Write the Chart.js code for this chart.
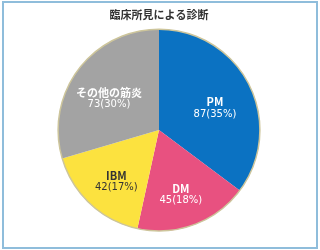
<!DOCTYPE html>
<html>
<head>
<meta charset="utf-8">
<script src="https://cdn.jsdelivr.net/npm/chart.js@4"></script>
<style>
  body { margin: 0; background: #fff; }
  #wrap { position: relative; width: 320px; height: 250px; }
  #frame {
    position: absolute; left: 2px; top: 1px; width: 316px; height: 248px;
    box-sizing: border-box; border: 2px solid #8fbddb; pointer-events: none;
  }
  canvas { position: absolute; left: 0; top: 0; }
</style>
</head>
<body>
<div id="wrap">
  <canvas id="diagChart" width="320" height="250"></canvas>
  <div id="frame"></div>
</div>
<script>
// 診断名と人数
const categories = ["PM", "DM", "IBM", "その他の筋炎"];
const counts = [87, 45, 42, 73];
const percentLabels = ["35%", "18%", "17%", "30%"];

// 色
const sliceColors = ["#0b72c2", "#e85180", "#fce23f", "#a3a3a3"];
const textColors = ["#ffffff", "#ffffff", "#333333", "#ffffff"];

const FONT = "'Noto Sans CJK JP', 'Noto Sans', sans-serif";

// 外周の細い線とラベルを描くプラグイン
const pieExtras = {
  id: "pieExtras",
  afterDatasetsDraw(chart) {
    const ctx = chart.ctx;
    const meta = chart.getDatasetMeta(0);
    const first = meta.data[0];

    ctx.save();
    ctx.beginPath();
    ctx.arc(first.x, first.y, first.outerRadius, 0, Math.PI * 2);
    ctx.strokeStyle = "#cdc59b";
    ctx.lineWidth = 1.5;
    ctx.stroke();

    ctx.textAlign = "center";
    ctx.textBaseline = "middle";
    meta.data.forEach((arc, i) => {
      const mid = (arc.startAngle + arc.endAngle) / 2;
      const r = arc.outerRadius * 0.62;
      const x = arc.x + Math.cos(mid) * r;
      const y = arc.y + Math.sin(mid) * r;
      ctx.fillStyle = textColors[i];
      ctx.font = "bold 11px " + FONT;
      ctx.fillText(categories[i], x, y);
      ctx.font = "10px 'DejaVu Sans', " + FONT;
      ctx.fillText(counts[i] + "(" + percentLabels[i] + ")", x, y + 12);
    });
    ctx.restore();
  }
};

const ctx = document.getElementById("diagChart").getContext("2d");

new Chart(ctx, {
  type: "pie",
  data: {
    labels: categories,
    datasets: [{
      data: counts,
      backgroundColor: sliceColors,
      borderWidth: 0
    }]
  },
  options: {
    responsive: false,
    animation: false,
    layout: { padding: { top: 0, bottom: 19, left: 0, right: 2 } },
    plugins: {
      legend: { display: false },
      tooltip: { enabled: false },
      title: {
        display: true,
        text: "臨床所見による診断",
        color: "#333333",
        font: { family: FONT, size: 11, weight: "bold" },
        padding: { top: 8, bottom: 8 }
      }
    }
  },
  plugins: [pieExtras]
});
</script>
</body>
</html>
